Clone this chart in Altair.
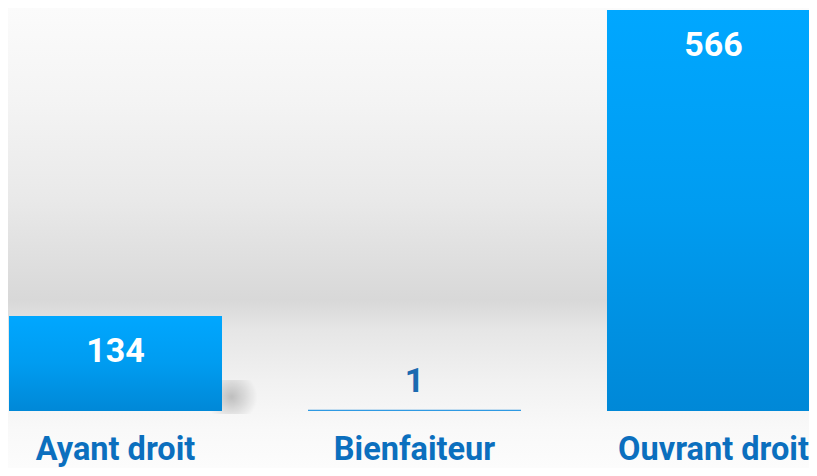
import altair as alt
import pandas as pd

categories = ["Ayant droit", "Bienfaiteur", "Ouvrant droit"]
values = [134, 1, 566]

df = pd.DataFrame({"category": categories, "value": values})

FONT = "Roboto"

x_enc = alt.X(
    "category:N",
    sort=categories,
    scale=alt.Scale(range=[0, 813], paddingInner=0.2876, paddingOuter=0.00334),
    axis=alt.Axis(
        title=None, domain=False, ticks=False, tickSize=0, grid=False,
        labelPadding=22, labelBaseline="top", labelAngle=0,
        labelFontSize=32.5, labelFont=FONT, labelFontWeight="bold",
        labelColor="#0b6fbe", labelLimit=0, labelOverlap=False, zindex=2,
    ),
)
y_enc = alt.Y("value:Q", scale=alt.Scale(domain=[0, 568.8]), axis=None)

bg_gradient = alt.LinearGradient(
    gradient="linear", x1=0, x2=0, y1=0, y2=1,
    stops=[
        alt.GradientStop(offset=0.0, color="#fbfbfb"),
        alt.GradientStop(offset=0.2, color="#f4f4f4"),
        alt.GradientStop(offset=0.417, color="#e9e9e9"),
        alt.GradientStop(offset=0.635, color="#d8d8d8"),
        alt.GradientStop(offset=0.70, color="#e6e6e6"),
        alt.GradientStop(offset=0.81, color="#f1f1f1"),
        alt.GradientStop(offset=0.917, color="#f9f9f9"),
        alt.GradientStop(offset=1.0, color="#fcfcfc"),
    ],
)

bar_gradient = alt.LinearGradient(
    gradient="linear", x1=0, x2=0, y1=0, y2=1,
    stops=[
        alt.GradientStop(offset=0.0, color="#00a7ff"),
        alt.GradientStop(offset=0.5, color="#009cf0"),
        alt.GradientStop(offset=1.0, color="#0088d7"),
    ],
)

shadow_gradient = alt.RadialGradient(
    gradient="radial", x1=0.5, y1=0.5, r1=0, x2=0.5, y2=0.5, r2=0.5,
    stops=[
        alt.GradientStop(offset=0.0, color="rgba(0,0,0,0.22)"),
        alt.GradientStop(offset=0.5, color="rgba(0,0,0,0.11)"),
        alt.GradientStop(offset=1.0, color="rgba(0,0,0,0)"),
    ],
)

bg = alt.Chart(alt.Data(values=[{}])).mark_rect(color=bg_gradient).encode(
    x=alt.value(0), x2=alt.value(801), y=alt.value(0), y2=alt.value(460)
)

shadow = alt.Chart(df).transform_filter("datum.value >= 50").mark_bar(
    color=shadow_gradient, width=52, xOffset=116, yOffset=-31, y2Offset=3
).encode(x=x_enc, y=alt.Y(datum=0, scale=alt.Scale(domain=[0, 568.8]), axis=None),
         y2=alt.Y2(datum=0))

bars = alt.Chart(df).mark_bar(color=bar_gradient).encode(x=x_enc, y=y_enc)

thin = alt.Chart(df).transform_filter("datum.value < 50").mark_tick(
    color="#2a90dc", thickness=1, size=213, opacity=1
).encode(x=x_enc, y=y_enc)

text_in = alt.Chart(df).transform_filter("datum.value >= 50").mark_text(
    color="white", font=FONT, fontSize=34, fontWeight="bold",
    baseline="alphabetic", dy=46,
).encode(x=x_enc, y=y_enc, text=alt.Text("value:Q"))

text_out = alt.Chart(df).transform_filter("datum.value < 50").mark_text(
    color="#1a6ab0", font=FONT, fontSize=34, fontWeight="bold",
    baseline="alphabetic", dy=-18,
).encode(x=x_enc, y=y_enc, text=alt.Text("value:Q"))

chart = alt.layer(bg, shadow, bars, thin, text_in, text_out).properties(
    width=801, height=403,
    autosize="none",
    padding={"left": 0, "top": 0, "right": 0, "bottom": 57},
    background="white",
).configure_view(stroke=None)

chart.save("out.html", embed_options={"renderer": "svg", "actions": False})
